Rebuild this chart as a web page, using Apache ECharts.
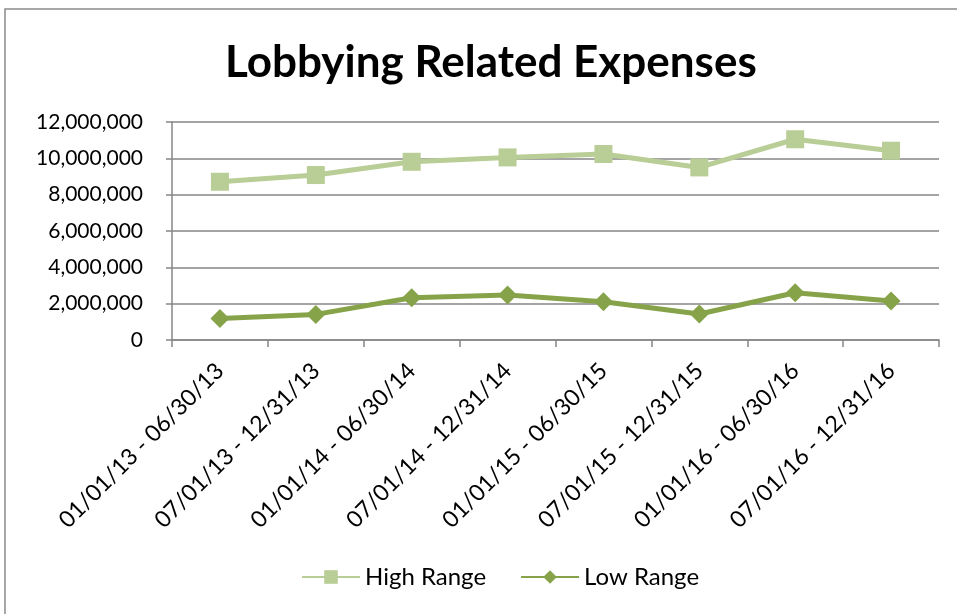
<!DOCTYPE html>
<html>
<head>
<meta charset="utf-8">
<script src="https://cdn.jsdelivr.net/npm/echarts@6/dist/echarts.min.js"></script>
<style>
  html, body { margin: 0; padding: 0; background: #fff; }
  #chart { width: 957px; height: 614px; }
</style>
</head>
<body>
<div id="chart"></div>
<script>
    // 数据
    var categories = ["01/01/13 - 06/30/13", "07/01/13 - 12/31/13", "01/01/14 - 06/30/14", "07/01/14 - 12/31/14",
        "01/01/15 - 06/30/15", "07/01/15 - 12/31/15", "01/01/16 - 06/30/16", "07/01/16 - 12/31/16"];
    var highRange = [8710000, 9080000, 9810000, 10050000, 10240000, 9500000, 11050000, 10420000];
    var lowRange = [1190000, 1410000, 2330000, 2480000, 2110000, 1430000, 2600000, 2150000];
    var yTicks = [0, 2000000, 4000000, 6000000, 8000000, 10000000, 12000000];

    var chart = echarts.init(document.getElementById('chart'));

    var font = 'Lato, "Open Sans", sans-serif';

    var option = {
        backgroundColor: '#fff',
        animation: false,
        title: {
            text: 'Lobbying Related Expenses',
            left: 220,
            top: 36,
            textStyle: {
                fontFamily: font,
                fontSize: 44,
                fontWeight: 'bold',
                color: '#000'
            }
        },
        graphic: [{
            type: 'rect',
            shape: { x: 5, y: 9, width: 1000, height: 700 },
            style: { fill: 'none', stroke: '#8a8a8a', lineWidth: 1.5 },
            silent: true
        }],
        legend: {
            bottom: 20,
            left: 296,
            itemWidth: 58,
            itemHeight: 17,
            itemGap: 34,
            textStyle: { fontFamily: font, fontSize: 24, color: '#000' },
            data: ['High Range', 'Low Range']
        },
        grid: {
            left: 172,
            right: 18,
            top: 122,
            bottom: 274
        },
        xAxis: {
            type: 'category',
            data: categories,
            boundaryGap: true,
            axisLine: { lineStyle: { color: '#868686', width: 1.5 } },
            axisTick: { show: true, length: 7, lineStyle: { color: '#868686', width: 1.5 } },
            axisLabel: {
                interval: 0,
                rotate: 45,
                margin: 27,
                fontFamily: font,
                fontSize: 23,
                color: '#000'
            }
        },
        yAxis: {
            type: 'value',
            min: 0,
            max: 12000000,
            interval: 2000000,
            axisLine: { show: true, lineStyle: { color: '#868686', width: 1.5 } },
            axisTick: { show: true, length: 6, lineStyle: { color: '#868686', width: 1.5 } },
            splitLine: { lineStyle: { color: '#868686', width: 1.5 } },
            axisLabel: {
                margin: 29,
                fontFamily: font,
                fontSize: 21,
                color: '#000',
                formatter: function (v) {
                    return yTicks.indexOf(v) >= 0 ? v.toLocaleString('en-US') : '';
                }
            }
        },
        series: [
            {
                name: 'High Range',
                type: 'line',
                data: highRange,
                symbol: 'rect',
                symbolSize: 18,
                color: '#b9cd96',
                lineStyle: { width: 5, color: '#b9cd96' },
                itemStyle: { color: '#b9cd96' }
            },
            {
                name: 'Low Range',
                type: 'line',
                data: lowRange,
                symbol: 'diamond',
                symbolSize: 19,
                color: '#87a34a',
                lineStyle: { width: 5, color: '#87a34a' },
                itemStyle: { color: '#87a34a' }
            }
        ]
    };

    chart.setOption(option);
</script>
</body>
</html>
